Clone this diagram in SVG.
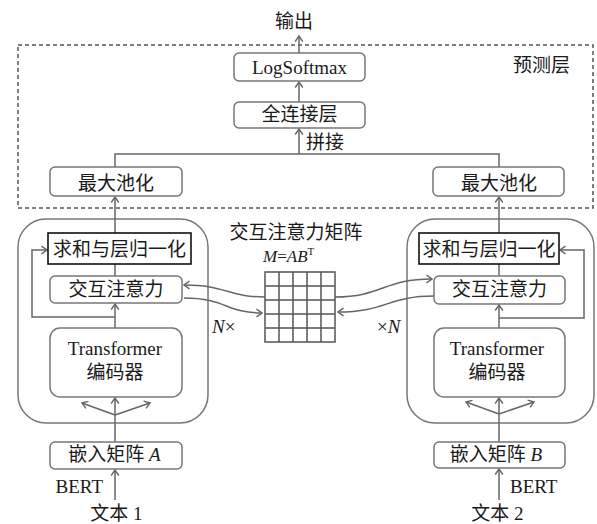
<svg xmlns="http://www.w3.org/2000/svg" width="597" height="524" viewBox="0 0 597 524">
<defs>
<style>
text{font-family:"Liberation Serif","Noto Sans CJK SC",serif;fill:#1a1a1a;font-size:19px}
.c{text-anchor:middle}
.i{font-style:italic}
.box{fill:#fff;stroke:#777;stroke-width:1.5}
.ln{fill:none;stroke:#666;stroke-width:1.5}
.arr{marker-end:url(#ah)}
</style>
<marker id="ah" viewBox="-7 -5 8 10" refX="0" refY="0" markerWidth="8" markerHeight="10" markerUnits="userSpaceOnUse" orient="auto">
<path d="M-5.5,-3.8 L0,0 L-5.5,3.8" fill="none" stroke="#666" stroke-width="1.4"/>
</marker>
</defs>
<rect width="597" height="524" fill="#fff"/>

<g id="prediction-layer">
<rect x="18" y="45" width="575" height="163" fill="none" stroke="#555" stroke-width="1.5" stroke-dasharray="4,3"/>
<text x="513" y="71.5">预测层</text>
</g>

<g id="encoder-left-frame"><rect x="18" y="219" width="190" height="204" rx="28" class="box" fill="none"/></g>
<g id="encoder-right-frame"><rect x="407" y="219" width="187" height="204" rx="28" class="box" fill="none"/></g>

<g id="connectors">
<!-- top -->
<path class="ln arr" d="M299,53 L299,36"/>
<path class="ln arr" d="M299,102 L299,82"/>
<path class="ln arr" d="M299,154 L299,129"/>
<path class="ln" d="M115,167 L115,154 L499,154 L499,167"/>
<!-- left column -->
<path class="ln arr" d="M115,233 L115,197"/>
<path class="ln" d="M115,276 L115,264"/>
<path class="ln arr" d="M115,328 L115,304"/>
<path class="ln arr" d="M115,317 L32,317 L32,250 L47,250"/>
<path class="ln arr" d="M115,442 L115,398"/>
<path class="ln arr" d="M115,415 L82,403"/>
<path class="ln arr" d="M115,415 L150,403"/>
<path class="ln arr" d="M115,500 L115,470"/>
<!-- right column -->
<path class="ln arr" d="M499,233 L499,197"/>
<path class="ln" d="M499,276 L499,264"/>
<path class="ln arr" d="M499,328 L499,305"/>
<path class="ln arr" d="M499,318 L584,318 L584,250 L560,250"/>
<path class="ln arr" d="M499,442 L499,398"/>
<path class="ln arr" d="M499,414 L466,402"/>
<path class="ln arr" d="M499,414 L534,402"/>
<path class="ln arr" d="M499,500 L499,469"/>
<!-- attention matrix links -->
<path class="ln arr" d="M265,297 C228,297 226,285 184,285"/>
<path class="ln arr" d="M184,298 C226,298 226,313 262,313"/>
<path class="ln arr" d="M335,297 C382,297 384,279 432,279"/>
<path class="ln arr" d="M434,296 C388,296 386,312 338,312"/>
</g>

<g id="output"><text class="c" x="294" y="28">输出</text></g>
<g id="logsoftmax"><rect x="234" y="53" width="131" height="28" rx="5" class="box"/><text class="c" x="299.5" y="74">LogSoftmax</text></g>
<g id="fc"><rect x="234" y="102" width="131" height="26" rx="5" class="box"/><text class="c" x="299.5" y="120.5">全连接层</text></g>
<g id="concat-label"><text x="306" y="148.5">拼接</text></g>
<g id="maxpool-left"><rect x="50" y="167" width="132" height="29" rx="5" class="box"/><text class="c" x="116" y="189.5">最大池化</text></g>
<g id="maxpool-right"><rect x="433" y="167" width="131" height="29" rx="5" class="box"/><text class="c" x="499" y="189.5">最大池化</text></g>

<g id="addnorm-left"><rect x="48" y="233" width="143" height="31" fill="#fff" stroke="#111" stroke-width="1.6"/><text class="c" x="119.5" y="255.5">求和与层归一化</text></g>
<g id="addnorm-right"><rect x="419" y="233" width="140" height="31" fill="#fff" stroke="#111" stroke-width="1.6"/><text class="c" x="489" y="255.5">求和与层归一化</text></g>
<g id="attn-left"><rect x="50" y="276" width="132" height="27" rx="5" class="box"/><text class="c" x="116" y="295.5">交互注意力</text></g>
<g id="attn-right"><rect x="434" y="276" width="131" height="28" rx="5" class="box"/><text class="c" x="499.5" y="295.5">交互注意力</text></g>
<g id="transformer-left"><rect x="50" y="328" width="132" height="69" rx="10" class="box"/><text class="c" x="115" y="355">Transformer</text><text class="c" x="115" y="379">编码器</text></g>
<g id="transformer-right"><rect x="434" y="328" width="131" height="69" rx="10" class="box"/><text class="c" x="497" y="355">Transformer</text><text class="c" x="497" y="379">编码器</text></g>
<g id="embed-left"><rect x="50" y="442" width="132" height="27" rx="5" class="box"/><text class="c" x="114.5" y="461">嵌入矩阵 <tspan class="i">A</tspan></text></g>
<g id="embed-right"><rect x="434" y="442" width="131" height="26" rx="5" class="box"/><text class="c" x="496" y="461">嵌入矩阵 <tspan class="i">B</tspan></text></g>
<g id="bert-left"><text x="103" y="493" text-anchor="end">BERT</text></g>
<g id="bert-right"><text x="510" y="493">BERT</text></g>
<g id="text1"><text class="c" x="116.5" y="520">文本 1</text></g>
<g id="text2"><text class="c" x="497.5" y="520">文本 2</text></g>
<g id="nx-left"><text x="212" y="333"><tspan class="i">N</tspan>×</text></g>
<g id="nx-right"><text x="377" y="333">×<tspan class="i">N</tspan></text></g>

<g id="attention-matrix">
<text class="c" x="296" y="238.5">交互注意力矩阵</text>
<text x="263" y="262" style="font-size:17px"><tspan class="i">M</tspan>=<tspan class="i">AB</tspan><tspan dy="-7" style="font-size:11px">T</tspan></text>
<g fill="none" stroke="#555" stroke-width="1.5">
<rect x="265" y="272" width="70" height="70" fill="#fff"/>
<path d="M279,272V342M293,272V342M307,272V342M321,272V342M265,286H335M265,300H335M265,314H335M265,328H335"/>
</g>
</g>
</svg>
